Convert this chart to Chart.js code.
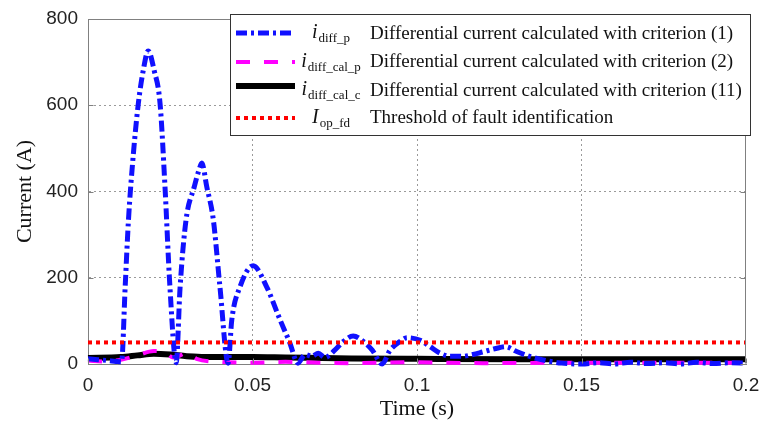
<!DOCTYPE html>
<html><head><meta charset="utf-8">
<script src="https://cdn.jsdelivr.net/npm/chart.js@4/dist/chart.umd.min.js"></script>
<style>html,body{margin:0;padding:0;background:#fff}</style>
</head><body>
<canvas id="c" width="759" height="422" style="width:759px;height:422px;display:block"></canvas>
<script>
// ---- data ----
const xTicks = [0, 0.05, 0.1, 0.15, 0.2];
const xTickLabels = ['0', '0.05', '0.1', '0.15', '0.2'];
const yTicks = [0, 200, 400, 600, 800];
const yTickLabels = ['0', '200', '400', '600', '800'];

// i_diff_p (blue dash-dot)
const blueT = [0, 0.003, 0.006, 0.0085, 0.0102, 0.0113, 0.0123, 0.0138, 0.0153, 0.0168, 0.0183, 0.0201, 0.0219, 0.0234, 0.0249, 0.0268,
  0.0280, 0.0298, 0.0323, 0.0337, 0.0346, 0.0361, 0.0381, 0.0401, 0.0426,
  0.0437, 0.0462, 0.0502, 0.0543, 0.0584, 0.0613, 0.0638,
  0.066, 0.068, 0.070, 0.072, 0.075, 0.0776, 0.0806, 0.0837, 0.0864, 0.0894, 0.0918, 0.0948, 0.097, 0.101, 0.104, 0.107, 0.110, 0.114, 0.117, 0.120, 0.124, 0.127, 0.130, 0.134, 0.138, 0.144,
  0.150, 0.155, 0.160, 0.165, 0.170, 0.175, 0.180, 0.185, 0.190, 0.195, 0.200];
const blueI = [12, 10, 8, 6, 5, 179, 334, 488, 604, 681, 726, 681, 604, 411, 179, 3,
  179, 334, 411, 449, 466, 411, 334, 179, 2,
  102, 179, 228, 179, 102, 50, 2,
  22, 18, 25, 15, 32, 52, 65, 52, 32, 0, 32, 52, 61, 55, 40, 25, 18, 18, 22, 28, 36, 40, 30, 18, 10, 2,
  0, 3, 0, 4, 1, 3, 0, 4, 1, 3, 2];

// i_diff_cal_p (magenta dashed)
const magT = [0, 0.005, 0.010, 0.015, 0.020, 0.023, 0.026, 0.030, 0.033, 0.040, 0.050, 0.060, 0.070, 0.080, 0.100, 0.120, 0.150, 0.200];
const magI = [8, 6, 10, 20, 30, 28, 15, 25, 12, 5, 3, 5, 3, 2, 4, 2, 3, 3];

// i_diff_cal_c (black solid)
const blackT = [0, 0.010, 0.015, 0.020, 0.025, 0.030, 0.040, 0.050, 0.060, 0.080, 0.100, 0.130, 0.160, 0.200];
const blackI = [14, 16, 20, 24, 22, 18, 16, 16, 15, 13, 12, 11, 11, 11];

// I_op_fd threshold (red dotted)
const thrT = [0, 0.2];
const thrI = [50, 50];

// legend texts
const legSymbol = ['i', 'i', 'i', 'I'];
const legSub = ['diff_p', 'diff_cal_p', 'diff_cal_c', 'op_fd'];
const legText = ['Differential current calculated with criterion (1)',
  'Differential current calculated with criterion (2)',
  'Differential current calculated with criterion (11)',
  'Threshold of fault identification'];

const pts = (t, v) => t.map((x, i) => ({x: x, y: v[i]}));

const series = [
  {data: pts(blueT, blueI), borderColor: '#1010ff', borderWidth: 5, borderDash: [11, 4, 3, 4], order: 1, cubicInterpolationMode: 'monotone'},
  {data: pts(magT, magI), borderColor: '#ff00ff', borderWidth: 4, borderDash: [14, 14], order: 2, cubicInterpolationMode: 'monotone'},
  {data: pts(blackT, blackI), borderColor: '#000000', borderWidth: 6, borderDash: [], order: 3, cubicInterpolationMode: 'monotone'},
  {data: pts(thrT, thrI), borderColor: '#ff0000', borderWidth: 4, borderDash: [4, 4], order: 0}
];

const serif = "'Liberation Serif', 'Times New Roman', serif";
const sans = "'Liberation Sans', Arial, sans-serif";

const framePlugin = {
  id: 'frame',
  afterDatasetsDraw(chart) {
    const {ctx, chartArea: a, scales: {x, y}} = chart;
    ctx.save();
    ctx.strokeStyle = '#808080';
    ctx.lineWidth = 1;
    const L = Math.round(a.left) + 0.5, R = Math.round(a.right) - 0.5, T = Math.round(a.top) + 0.5, B = Math.round(a.bottom) - 0.5;
    ctx.beginPath();
    ctx.moveTo(L, T); ctx.lineTo(R, T); ctx.lineTo(R, B);
    ctx.stroke();
    ctx.beginPath();
    xTicks.forEach(v => { const px = Math.round(x.getPixelForValue(v)) + 0.5; ctx.moveTo(px, B); ctx.lineTo(px, B - 5); ctx.moveTo(px, T); ctx.lineTo(px, T + 5); });
    yTicks.forEach(v => { const py = Math.round(y.getPixelForValue(v)) + 0.5; ctx.moveTo(L, py); ctx.lineTo(L + 5, py); ctx.moveTo(R, py); ctx.lineTo(R - 5, py); });
    ctx.stroke();

    // legend box
    const bx = 230.5, by = 14.5, bw = 520, bh = 121;
    ctx.fillStyle = '#ffffff';
    ctx.fillRect(bx, by, bw, bh);
    ctx.strokeStyle = '#333333';
    ctx.strokeRect(bx, by, bw, bh);
    const lineY = [33, 62, 86, 118];
    const textY = [34, 62.5, 91, 118.5];
    const ds = chart.data.datasets;
    for (let i = 0; i < 4; i++) {
      const d = ds[i];
      ctx.save();
      ctx.strokeStyle = d.borderColor;
      ctx.lineWidth = d.borderWidth;
      ctx.setLineDash(d.borderDash || []);
      ctx.beginPath();
      ctx.moveTo(236, lineY[i]); ctx.lineTo(295, lineY[i]);
      ctx.stroke();
      ctx.restore();
      // symbol with subscript, centred at x=331
      ctx.fillStyle = '#111';
      ctx.textBaseline = 'middle';
      ctx.textAlign = 'left';
      ctx.font = 'italic 20px ' + serif;
      const w1 = ctx.measureText(legSymbol[i]).width;
      ctx.font = '13px ' + serif;
      const w2 = ctx.measureText(legSub[i]).width;
      const sx = 331 - (w1 + w2 + 1) / 2;
      ctx.font = 'italic 20px ' + serif;
      ctx.fillText(legSymbol[i], sx, textY[i] - 1);
      ctx.font = '13px ' + serif;
      ctx.fillText(legSub[i], sx + w1 + 1, textY[i] + 5);
      ctx.font = '19px ' + serif;
      ctx.fillText(legText[i], 370, textY[i]);
    }
    ctx.restore();
  }
};

new Chart(document.getElementById('c'), {
  type: 'line',
  data: {datasets: series.map(s => Object.assign({fill: false, pointRadius: 0, tension: 0, clip: 3}, s))},
  options: {
    responsive: false,
    animation: false,
    devicePixelRatio: 1,
    layout: {padding: {left: 0, right: 13, top: 19, bottom: 0}},
    plugins: {legend: {display: false}, tooltip: {enabled: false}},
    scales: {
      x: {
        type: 'linear', min: 0, max: 0.2,
        afterBuildTicks: s => { s.ticks = xTicks.map(v => ({value: v})); },
        afterFit: s => { s.height = 58; s.paddingLeft = 0; s.paddingRight = 0; },
        ticks: {callback: (v, i) => xTickLabels[i], font: {family: sans, size: 19}, color: '#222', padding: 10, maxRotation: 0},
        grid: {drawTicks: false, lineWidth: 1, color: c => (c.index === 0 || c.index === xTicks.length - 1) ? 'rgba(0,0,0,0)' : '#9a9a9a'},
        border: {display: true, color: '#808080', width: 1, dash: [2, 3]},
        title: {display: true, text: 'Time (s)', font: {family: serif, size: 22}, color: '#111', padding: {top: 0, bottom: 0}}
      },
      y: {
        type: 'linear', min: 0, max: 800,
        afterBuildTicks: s => { s.ticks = yTicks.map(v => ({value: v})); },
        afterFit: s => { s.width = 88; s.paddingTop = 0; s.paddingBottom = 0; },
        ticks: {callback: (v, i) => yTickLabels[i], font: {family: sans, size: 19}, color: '#222', padding: 10},
        grid: {drawTicks: false, lineWidth: 1, color: c => (c.index === 0 || c.index === yTicks.length - 1) ? 'rgba(0,0,0,0)' : '#9a9a9a'},
        border: {display: true, color: '#808080', width: 1, dash: [2, 3]},
        title: {display: true, text: 'Current (A)', font: {family: serif, size: 22}, color: '#111', padding: {top: 12, bottom: 0}}
      }
    }
  },
  plugins: [framePlugin]
});
</script>
</body></html>
